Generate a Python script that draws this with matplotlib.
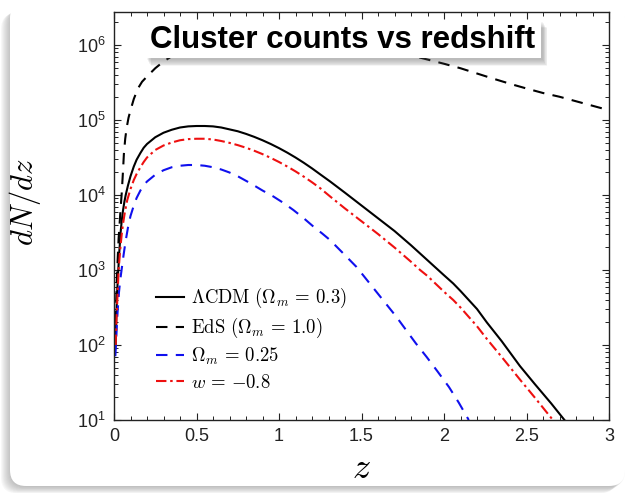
import numpy as np
import matplotlib
matplotlib.use("Agg")
import matplotlib.pyplot as plt
from matplotlib.patches import FancyBboxPatch, Rectangle
from matplotlib.ticker import FixedLocator, LogLocator, NullFormatter, FuncFormatter

plt.rcParams['mathtext.fontset'] = 'cm'
plt.rcParams['mathtext.rm'] = 'Liberation Sans'
plt.rcParams['mathtext.it'] = 'Liberation Sans:italic'
plt.rcParams['mathtext.bf'] = 'Liberation Sans:bold'

# ---- data (log10 dN/dz) ----
z_lcdm = [0.01, 0.015, 0.02, 0.026, 0.033, 0.04, 0.047, 0.055, 0.063, 0.071, 0.085, 0.1, 0.12,
          0.137, 0.16, 0.18, 0.2, 0.25, 0.3, 0.35, 0.4, 0.45, 0.5, 0.55, 0.6, 0.65, 0.7, 0.75,
          0.8, 0.85, 0.9, 0.95, 1.0, 1.05, 1.1, 1.15, 1.2, 1.25, 1.31, 1.4, 1.5, 1.6, 1.7, 1.8,
          1.855, 1.9, 2.0, 2.056, 2.1, 2.2, 2.26, 2.35, 2.46, 2.55, 2.65, 2.73]
lg_lcdm = [2.0, 2.45, 2.75, 3.0, 3.27, 3.5, 3.66, 3.8, 3.91, 4.0, 4.13, 4.25, 4.38,
           4.47, 4.56, 4.63, 4.68, 4.77, 4.83, 4.87, 4.9, 4.915, 4.92, 4.92, 4.915, 4.9, 4.875,
           4.85, 4.815, 4.775, 4.73, 4.68, 4.625, 4.565, 4.5, 4.43, 4.355, 4.275, 4.18, 4.03,
           3.86, 3.69, 3.52, 3.33, 3.22, 3.13, 2.93, 2.82, 2.72, 2.48, 2.3, 2.05, 1.72, 1.48,
           1.22, 1.0]

z_eds = [0.01, 0.016, 0.022, 0.028, 0.035, 0.041, 0.047, 0.054, 0.06, 0.068, 0.077, 0.088, 0.1,
         0.12, 0.145, 0.17, 0.2, 0.25, 0.3, 0.35, 0.42, 0.5, 0.6, 0.7, 0.8, 0.9, 1.0, 1.1, 1.2,
         1.3, 1.4, 1.5, 1.6, 1.7, 1.84, 2.0, 2.1, 2.2, 2.3, 2.42, 2.5, 2.6, 2.7, 2.8, 2.9, 3.0]
lg_eds = [2.3, 2.8, 3.13, 3.42, 3.65, 3.85, 4.03, 4.3, 4.55, 4.75, 4.9, 5.03, 5.13,
          5.28, 5.42, 5.51, 5.58, 5.69, 5.78, 5.85, 5.92, 5.98, 6.02, 6.05, 6.065, 6.07, 6.07,
          6.06, 6.04, 6.02, 6.0, 5.97, 5.94, 5.9, 5.84, 5.75, 5.69, 5.62, 5.55, 5.47, 5.42,
          5.36, 5.31, 5.25, 5.19, 5.13]

z_om25 = [0.008, 0.012, 0.016, 0.02, 0.025, 0.03, 0.038, 0.047, 0.058, 0.07, 0.085, 0.1, 0.12,
          0.137, 0.16, 0.18, 0.2, 0.25, 0.3, 0.35, 0.4, 0.45, 0.5, 0.55, 0.6, 0.65, 0.7, 0.75,
          0.824, 0.9, 0.966, 1.03, 1.087, 1.15, 1.208, 1.26, 1.309, 1.39, 1.47, 1.55, 1.63,
          1.71, 1.77, 1.83, 1.895, 1.96, 2.03, 2.09, 2.15]
lg_om25 = [1.85, 2.0, 2.2, 2.38, 2.55, 2.7, 2.87, 3.02, 3.2, 3.38, 3.57, 3.72, 3.86,
           3.96, 4.06, 4.13, 4.18, 4.27, 4.33, 4.37, 4.39, 4.40, 4.40, 4.39, 4.37, 4.34, 4.3,
           4.25, 4.16, 4.06, 3.98, 3.89, 3.8, 3.69, 3.58, 3.49, 3.4, 3.22, 3.04, 2.82, 2.6,
           2.38, 2.2, 2.02, 1.84, 1.65, 1.44, 1.23, 1.0]

z_w08 = [0.01, 0.015, 0.02, 0.028, 0.035, 0.04, 0.048, 0.055, 0.065, 0.08, 0.1, 0.12, 0.137,
         0.16, 0.18, 0.2, 0.25, 0.3, 0.35, 0.4, 0.45, 0.5, 0.55, 0.6, 0.65, 0.7, 0.75, 0.8,
         0.85, 0.9, 0.95, 1.0, 1.05, 1.1, 1.15, 1.2, 1.25, 1.31, 1.4, 1.5, 1.6, 1.7, 1.8,
         1.855, 1.9, 2.0, 2.056, 2.1, 2.2, 2.26, 2.35, 2.46, 2.55, 2.66]
lg_w08 = [2.0, 2.35, 2.6, 3.0, 3.2, 3.33, 3.5, 3.62, 3.76, 3.93, 4.08, 4.2, 4.28,
          4.37, 4.44, 4.5, 4.6, 4.66, 4.7, 4.73, 4.745, 4.75, 4.75, 4.74, 4.72, 4.695, 4.665,
          4.63, 4.59, 4.545, 4.495, 4.44, 4.38, 4.315, 4.245, 4.17, 4.09, 3.98, 3.82, 3.65,
          3.48, 3.3, 3.11, 3.0, 2.92, 2.71, 2.6, 2.5, 2.25, 2.08, 1.84, 1.54, 1.3, 1.0]

labels = [r'$\Lambda\mathrm{CDM}\ (\Omega_m\,=\,0.3)$',
          r'$\mathrm{EdS}\ (\Omega_m\,=\,1.0)$',
          r'$\Omega_m\,=\,0.25$',
          r'$w\,=\,{-0.8}$']
xticks = [0, 0.5, 1, 1.5, 2, 2.5, 3]
xtick_labels = ['0', '0.5', '1', '1.5', '2', '2.5', '3']
title = 'Cluster counts vs redshift'

W, H = 627, 493
fig = plt.figure(figsize=(W / 100, H / 100), dpi=100)
fig.patch.set_facecolor('white')

# card with soft shadow (left/bottom)
for i in range(10):
    fig.patches.append(FancyBboxPatch((10 - i * 1.0, 6 - i * 0.7), 615, 480,
                                      boxstyle="round,pad=0,rounding_size=16",
                                      transform=None, facecolor='#707070', edgecolor='none',
                                      alpha=0.05, zorder=0))
fig.patches.append(FancyBboxPatch((10, 7), 615, 484, boxstyle="round,pad=0,rounding_size=16",
                                  transform=None, facecolor='white', edgecolor='none', zorder=1))

ax = fig.add_axes([114 / W, 1 - 420 / H, (609 - 114) / W, (420 - 12) / H])
ax.set_zorder(2)
ax.patch.set_alpha(0)

def P(lg):
    return [10 ** v for v in lg]

ax.plot(z_lcdm, P(lg_lcdm), color='black', lw=1.5, ls='-', label=labels[0])
ax.plot(z_eds, P(lg_eds), color='black', lw=1.5, ls=(0, (5.5, 4)), label=labels[1])
ax.plot(z_om25, P(lg_om25), color='#1010ee', lw=1.5, ls=(0, (5.5, 4)), label=labels[2])
ax.plot(z_w08, P(lg_w08), color='#ee1010', lw=1.5, ls=(0, (5, 1.8, 1.2, 1.8)), label=labels[3])

ax.set_yscale('log')
ax.set_xlim(0, 3)
ax.set_ylim(10, 10 ** 6.44)
ax.set_xticks(xticks)
ax.set_xticklabels(xtick_labels)
ax.xaxis.set_minor_locator(FixedLocator(np.arange(0, 3.01, 0.1)))
ax.yaxis.set_major_locator(FixedLocator([1e1, 1e2, 1e3, 1e4, 1e5, 1e6]))
ax.yaxis.set_minor_locator(LogLocator(base=10, subs=np.arange(2, 10)))
ax.yaxis.set_minor_formatter(NullFormatter())
ax.yaxis.set_major_formatter(FuncFormatter(lambda v, p: r'$10^{%d}$' % round(np.log10(v))))

ax.tick_params(which='both', direction='in', top=True, right=True, colors='#222222',
               labelcolor='#222222')
ax.tick_params(which='major', length=5, width=0.8, labelsize=13, pad=6)
ax.tick_params(which='minor', length=3, width=0.7)
for lab in ax.get_xticklabels() + ax.get_yticklabels():
    lab.set_fontfamily('Liberation Sans')
    lab.set_math_fontfamily('custom')
for s in ax.spines.values():
    s.set_linewidth(1.0)
    s.set_color('#222222')

ax.set_xlabel(r'$z$', fontsize=26, labelpad=4)
ax.set_ylabel(r'$dN/dz$', fontsize=22)
ax.yaxis.set_label_coords(-0.143, 0.535)

leg = ax.legend(loc='lower left', bbox_to_anchor=(0.05, 0.028), frameon=False, fontsize=13.5,
                handlelength=1.5, handletextpad=0.4, labelspacing=0.3)

# title box
bx0, by0, bw, bh = 145, H - 58, 396, 38
for i in range(8):
    fig.patches.append(Rectangle((bx0 + 2 + i * 0.6, by0 - 2 - i * 0.9), bw, bh, transform=None,
                                 facecolor='#555555', edgecolor='none', alpha=0.06, zorder=5))
fig.patches.append(Rectangle((bx0, by0), bw, bh, transform=None, facecolor='white',
                             edgecolor='none', zorder=6))
fig.text((bx0 + bw / 2) / W, (by0 + bh / 2 - 1) / H, title, ha='center', va='center',
         fontsize=22.5, fontweight='bold', family='Liberation Sans', color='black', zorder=7)

fig.savefig('out.png', dpi=100)
